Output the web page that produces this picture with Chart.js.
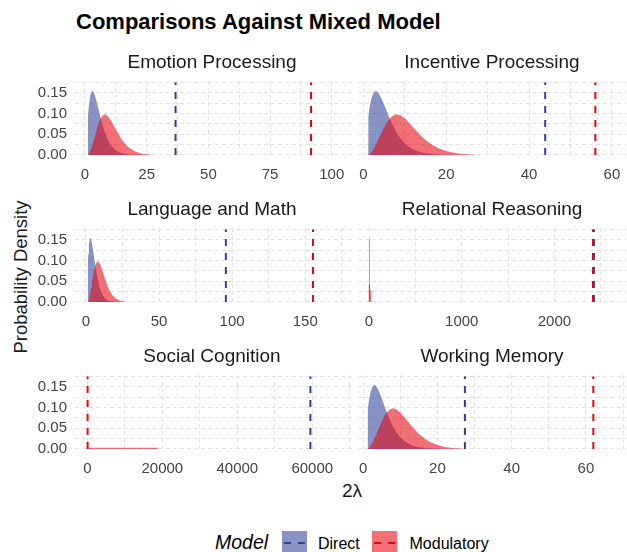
<!DOCTYPE html>
<html>
<head>
<meta charset="utf-8">
<script src="https://cdn.jsdelivr.net/npm/chart.js@4.4.1/dist/chart.umd.min.js"></script>
<style>
html,body{margin:0;padding:0;background:#fff;}
body{width:627px;height:552px;position:relative;overflow:hidden;font-family:"Liberation Sans",Arial,Helvetica,sans-serif;}
.t{position:absolute;white-space:nowrap;line-height:1;}
canvas{position:absolute;}
.key{position:absolute;width:25px;height:24px;}
.dash{position:absolute;top:11px;width:7px;height:2px;}
</style>
</head>
<body>
<div class="t" style="left:76px;top:10.7px;font-size:22px;font-weight:bold;color:#000">Comparisons Against Mixed Model</div>
<div class="t" style="left:21px;top:277px;font-size:18.5px;color:#1a1a1a;transform:translate(-50%,-50%) rotate(-90deg)">Probability Density</div>
<div class="t" style="left:352px;top:480.6px;font-size:19px;color:#1a1a1a;transform:translateX(-50%)">2λ</div>

<div class="t" style="left:215px;top:532.5px;font-size:19.5px;font-style:italic;color:#000">Model</div>
<div class="key" style="left:281.5px;top:531px;background:rgba(48,64,152,0.57)"><div class="dash" style="left:2px;background:rgb(48,64,152)"></div><div class="dash" style="left:16px;background:rgb(48,64,152)"></div></div>
<div class="t" style="left:318px;top:535.5px;font-size:16px;color:#000">Direct</div>
<div class="key" style="left:371.5px;top:531px;background:rgba(230,4,13,0.57)"><div class="dash" style="left:2px;background:rgb(230,4,13)"></div><div class="dash" style="left:16px;background:rgb(230,4,13)"></div></div>
<div class="t" style="left:409.5px;top:535.5px;font-size:16px;color:#000">Modulatory</div>

<script>
// ---------- data ----------
const panelNames = ["Emotion Processing", "Incentive Processing", "Language and Math",
                    "Relational Reasoning", "Social Cognition", "Working Memory"];

// observed 2λ statistics (dashed lines)
const directStat     = [36.7, 43.9, 95.7, 2426, 59500, 27.4];
const modulatoryStat = [91.6, 56.0, 155.3, 2416, 60, 62.0];

// null distributions (shared shape for the ordinary panels)
const nullX          = [1.15, 1.2, 1.5, 2, 2.5, 3, 3.5, 4, 5, 6, 7, 8, 9, 10, 11, 12, 13, 14, 15, 16, 17, 18, 19, 20, 22, 24, 26, 27];
const directNull     = [0, 0.092, 0.115, 0.138, 0.150, 0.154, 0.152, 0.144, 0.122, 0.097, 0.074, 0.055, 0.040, 0.028, 0.020, 0.014, 0.009, 0.006, 0.004, 0.003, 0.002, 0.0012, 0.0008, 0.0005, 0.0002, 0.0001, 0, 0];
const modulatoryNull = [0, 0.001, 0.002, 0.008, 0.015, 0.024, 0.034, 0.045, 0.067, 0.084, 0.094, 0.098, 0.095, 0.088, 0.078, 0.067, 0.056, 0.046, 0.036, 0.029, 0.022, 0.017, 0.013, 0.0095, 0.005, 0.0027, 0.0013, 0.0008];

// Relational Reasoning null distributions
const relDirectX = [-3, -2, 8, 9];
const relDirectY = [0, 0.152, 0.152, 0];
const relModX    = [-6, -5, 10, 11, 22, 23];
const relModY    = [0, 0.042, 0.042, 0.029, 0.029, 0];

// Social Cognition modulatory null distribution (very flat)
const socModX = [0, 18900];
const socModY = [0.003, 0.003];

// axis settings per panel
const xMinArr   = [-4.05, -1.28, -7.5, -119, -3300, -1.4];
const xMaxArr   = [108.2, 63.4, 182, 2772, 70600, 70.8];
const minorStep = [12.5, 10, 25, 500, 10000, 10];
const majorStep = [25, 20, 50, 1000, 20000, 20];
const yTickLabels = ["0.00", "0.05", "0.10", "0.15"];

// ---------- drawing ----------
Chart.defaults.font.family = '"Liberation Sans", Arial, sans-serif';
const BLUE = 'rgb(48,64,152)', BLUE_FILL = 'rgba(48,64,152,0.57)';
const RED = 'rgb(230,4,13)', RED_FILL = 'rgba(230,4,13,0.57)';
const GRID = '#e2e2e2', TICK = '#444444';
const YMIN = -0.00723, YMAX = 0.1783;

function isMult(v, m) { return Math.abs(v / m - Math.round(v / m)) < 1e-6; }
function pts(xs, ys) { return xs.map((x, i) => ({x: x, y: ys[i]})); }
function stepTicks(min, max, step) {
  const out = [];
  for (let k = Math.ceil(min / step - 1e-9); k * step <= max + 1e-9; k++) {
    out.push({value: Math.round(k * step * 1e6) / 1e6});
  }
  return out;
}

const distData = [
  {dx: nullX, dy: directNull, mx: nullX, my: modulatoryNull},
  {dx: nullX, dy: directNull, mx: nullX, my: modulatoryNull},
  {dx: nullX, dy: directNull, mx: nullX, my: modulatoryNull},
  {dx: relDirectX, dy: relDirectY, mx: relModX, my: relModY},
  {dx: nullX, dy: directNull, mx: socModX, my: socModY},
  {dx: nullX, dy: directNull, mx: nullX, my: modulatoryNull}
];

panelNames.forEach((name, i) => {
  const col = i % 2, row = Math.floor(i / 2);
  const rowTop = 81 + 147 * row;
  const cv = document.createElement('canvas');
  const cw = col ? 271 : 356, ch = 125;
  cv.width = cw; cv.height = ch;
  cv.style.left = (col ? 356 : 0) + 'px';
  cv.style.top = (rowTop - 20) + 'px';
  cv.style.width = cw + 'px'; cv.style.height = ch + 'px';
  document.body.appendChild(cv);

  const ttl = document.createElement('div');
  ttl.className = 't';
  ttl.textContent = name;
  ttl.style.fontSize = '19px';
  ttl.style.color = '#1a1a1a';
  ttl.style.left = (col ? 492 : 212) + 'px';
  ttl.style.top = (68.3 + 147 * row - 16.08) + 'px';
  ttl.style.transform = 'translateX(-50%)';
  document.body.appendChild(ttl);

  const d = distData[i];
  const major = majorStep[i];
  new Chart(cv, {
    type: 'line',
    data: {
      datasets: [
        {data: [{x: modulatoryStat[i], y: 0}, {x: modulatoryStat[i], y: 0.175}], borderColor: RED, borderWidth: 2, borderDash: [7, 7], fill: false, pointRadius: 0, order: 1},
        {data: [{x: directStat[i], y: 0}, {x: directStat[i], y: 0.175}], borderColor: BLUE, borderWidth: 2, borderDash: [7, 7], fill: false, pointRadius: 0, order: 2},
        {data: pts(d.mx, d.my), backgroundColor: RED_FILL, borderColor: 'transparent', borderWidth: 0, fill: 'origin', pointRadius: 0, tension: 0, order: 3},
        {data: pts(d.dx, d.dy), backgroundColor: BLUE_FILL, borderColor: 'transparent', borderWidth: 0, fill: 'origin', pointRadius: 0, tension: 0, order: 4}
      ]
    },
    options: {
      responsive: false, animation: false, devicePixelRatio: 1,
      layout: {padding: {top: 20, left: 0, right: col ? 1 : 4, bottom: 0}},
      plugins: {legend: {display: false}, tooltip: {enabled: false}, title: {display: false}},
      events: [],
      scales: {
        x: {
          type: 'linear', min: xMinArr[i], max: xMaxArr[i],
          border: {display: false, dash: [4, 3]},
          grid: {color: GRID, lineWidth: 1, drawTicks: false},
          ticks: {
            autoSkip: false, maxRotation: 0, minRotation: 0,
            padding: 8, color: TICK, font: {size: 15},
            callback: v => isMult(v, major) ? String(Math.round(v)) : ''
          },
          afterBuildTicks: s => { s.ticks = stepTicks(xMinArr[i], xMaxArr[i], minorStep[i]); },
          afterFit: s => { s.height = 28; s.paddingLeft = 0; s.paddingRight = 0; }
        },
        y: {
          type: 'linear', min: YMIN, max: YMAX,
          border: {display: false, dash: [4, 3]},
          grid: {color: GRID, lineWidth: 1, drawTicks: false},
          ticks: {
            display: col === 0, autoSkip: false, padding: 8,
            color: TICK, font: {size: 15},
            callback: v => { const k = Math.round(v / 0.05); return (isMult(v, 0.05) && k >= 0 && k < yTickLabels.length) ? yTickLabels[k] : ''; }
          },
          afterBuildTicks: s => { s.ticks = stepTicks(YMIN, YMAX, 0.025); },
          afterFit: s => { s.width = col ? 2 : 75; s.paddingTop = 0; s.paddingBottom = 0; }
        }
      }
    }
  });
});
</script>
</body>
</html>
